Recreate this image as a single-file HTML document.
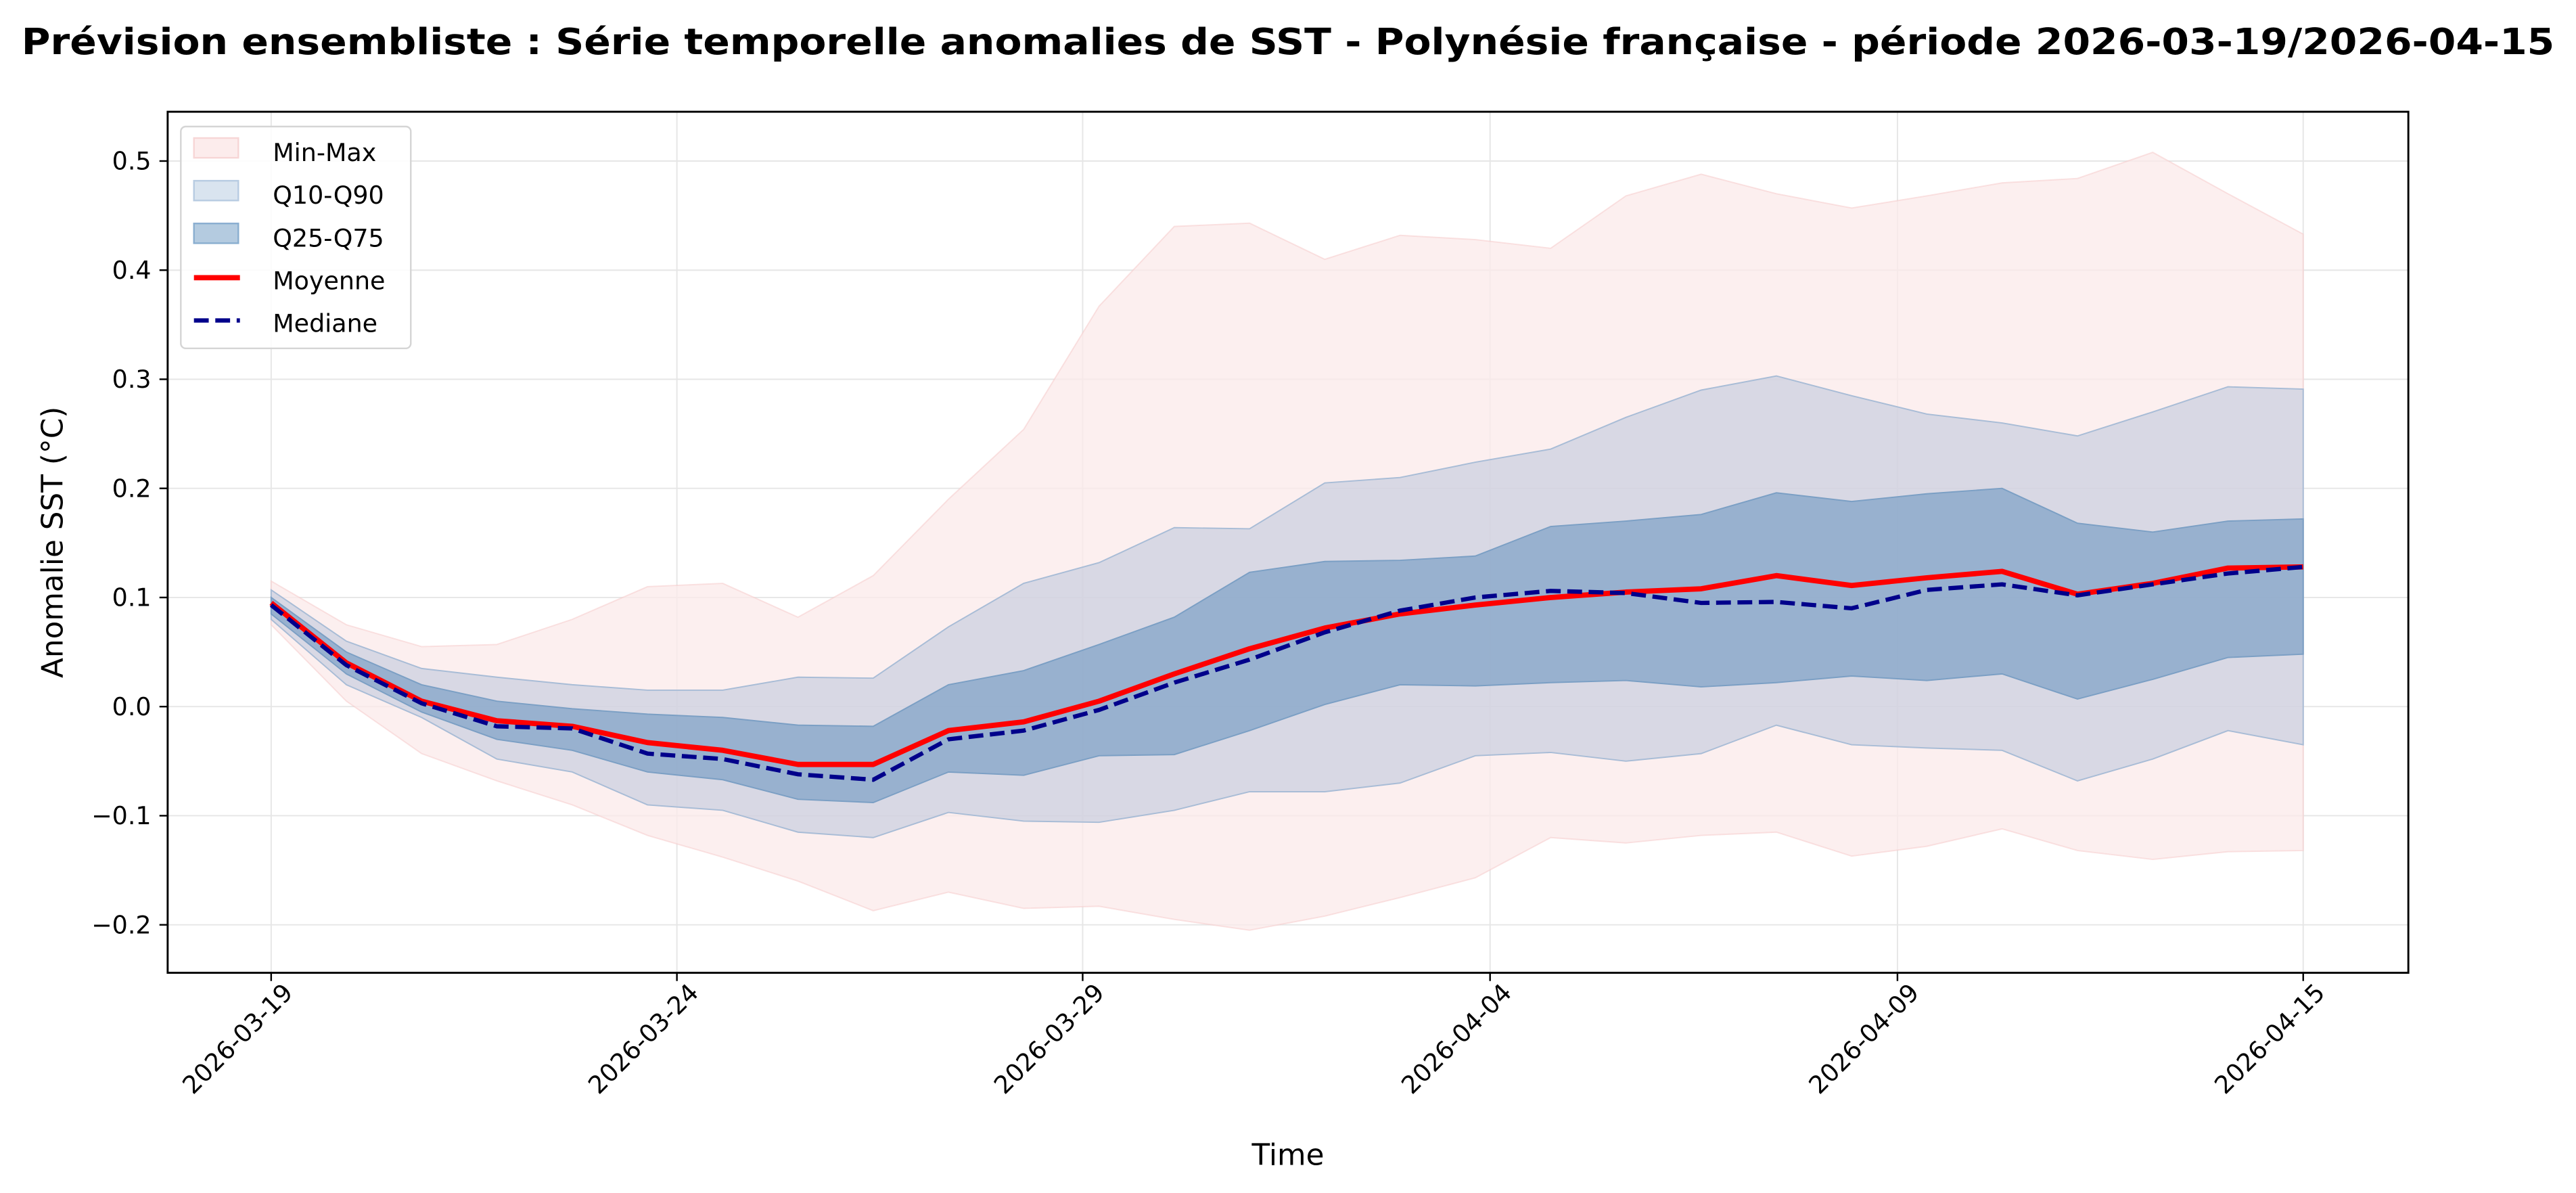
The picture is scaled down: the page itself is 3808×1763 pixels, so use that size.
<!DOCTYPE html>
<html><head><meta charset="utf-8"><style>html,body{margin:0;padding:0;background:#fff}svg{display:block}</style></head>
<body>
<svg id="s" xmlns="http://www.w3.org/2000/svg" width="3808" height="1763" viewBox="0 0 1568 726" font-family="'DejaVu Sans','Liberation Sans',sans-serif">
<rect width="1568" height="726" fill="#fff"/>
<g id="g"></g>
<text x="784" y="33" text-anchor="middle" font-size="22" font-weight="bold" textLength="1542" lengthAdjust="spacingAndGlyphs">Prévision ensembliste : Série temporelle anomalies de SST - Polynésie française - période 2026-03-19/2026-04-15</text>
</svg>
<script>
const X0=165,DX=(1402-165)/27;
const Y=v=>430-v*664, Xi=i=>X0+DX*i;
const mean=[.095,.04,.005,-.013,-.018,-.033,-.04,-.053,-.053,-.022,-.014,.005,.03,.053,.072,.085,.093,.1,.105,.108,.12,.111,.118,.124,.103,.113,.127,.128];
const med=[.093,.038,.003,-.018,-.02,-.043,-.048,-.062,-.067,-.03,-.022,-.003,.022,.043,.068,.088,.1,.106,.104,.095,.096,.09,.107,.112,.102,.112,.122,.128];
const q25=[.085,.03,-.005,-.03,-.04,-.06,-.067,-.085,-.088,-.06,-.063,-.045,-.044,-.022,.002,.02,.019,.022,.024,.018,.022,.028,.024,.03,.007,.025,.045,.048];
const q75=[.1,.05,.02,.005,-.002,-.007,-.01,-.017,-.018,.02,.033,.057,.082,.123,.133,.134,.138,.165,.17,.176,.196,.188,.195,.2,.168,.16,.17,.172];
const q10=[.08,.02,-.01,-.048,-.06,-.09,-.095,-.115,-.12,-.097,-.105,-.106,-.095,-.078,-.078,-.07,-.045,-.042,-.05,-.043,-.017,-.035,-.038,-.04,-.068,-.048,-.022,-.035];
const q90=[.107,.06,.035,.027,.02,.015,.015,.027,.026,.073,.113,.132,.164,.163,.205,.21,.224,.236,.265,.29,.303,.285,.268,.26,.248,.27,.293,.291];
const mn=[.075,.005,-.043,-.068,-.09,-.118,-.138,-.16,-.187,-.17,-.185,-.183,-.195,-.205,-.192,-.175,-.157,-.12,-.125,-.118,-.115,-.137,-.128,-.112,-.132,-.14,-.133,-.132];
const mx=[.115,.075,.055,.057,.08,.11,.113,.082,.12,.19,.254,.367,.44,.443,.41,.432,.428,.42,.468,.488,.47,.457,.468,.48,.484,.508,.47,.433];
const pts=a=>a.map((v,i)=>Xi(i).toFixed(1)+','+Y(v).toFixed(1));
const band=(lo,hi)=>pts(hi).concat(pts(lo).reverse()).join(' ');
let h='';
[-.2,-.1,0,.1,.2,.3,.4,.5].forEach(v=>{h+=`<line x1="102" x2="1466" y1="${Y(v)}" y2="${Y(v)}" stroke="#e6e6e6" stroke-width="0.8"/>`;});
const ticks=[[165,'2026-03-19'],[412,'2026-03-24'],[659,'2026-03-29'],[907,'2026-04-04'],[1155,'2026-04-09'],[1402,'2026-04-15']];
ticks.forEach(t=>{h+=`<line x1="${t[0]}" x2="${t[0]}" y1="68" y2="592" stroke="#e6e6e6" stroke-width="0.8"/>`;});
h+=`<polygon points="${band(mn,mx)}" fill="#fbe9e9" fill-opacity="0.75" stroke="#f5c8c8" stroke-opacity="0.5" stroke-width="0.8"/>`;
h+=`<polygon points="${band(q10,q90)}" fill="#acbdd8" fill-opacity="0.45" stroke="#a8bcd6" stroke-width="0.8"/>`;
h+=`<polygon points="${band(q25,q75)}" fill="#7fa2c6" fill-opacity="0.72" stroke="#7b9fc4" stroke-width="0.8"/>`;
h+=`<polyline points="${pts(mean).join(' ')}" fill="none" stroke="#ff0000" stroke-width="3.2" stroke-linejoin="round"/>`;
h+=`<polyline points="${pts(med).join(' ')}" fill="none" stroke="#00008b" stroke-width="2.6" stroke-dasharray="9,4"/>`;
h+=`<rect x="102" y="68" width="1364" height="524" fill="none" stroke="#000" stroke-width="1.2"/>`;
[-.2,-.1,0,.1,.2,.3,.4,.5].forEach(v=>{const y=Y(v);h+=`<line x1="97" x2="102" y1="${y}" y2="${y}" stroke="#000"/><text x="92" y="${y+5.2}" font-size="15" text-anchor="end">${v<0?'−'+(-v).toFixed(1):v.toFixed(1)}</text>`;});
ticks.forEach(t=>{h+=`<line x1="${t[0]}" x2="${t[0]}" y1="592" y2="597" stroke="#000"/><text transform="translate(${t[0]+14},605) rotate(-45)" font-size="15" text-anchor="end">${t[1]}</text>`;});
h+=`<text x="784" y="709" font-size="18" text-anchor="middle">Time</text>`;
h+=`<text transform="translate(38,330) rotate(-90)" font-size="18" text-anchor="middle">Anomalie SST (°C)</text>`;
h+=`<rect x="110" y="77" width="140" height="135" rx="3" fill="#fff" fill-opacity="0.85" stroke="#d5d5d5"/>`;
h+=`<rect x="118" y="84" width="27" height="12" fill="#fcecec" stroke="#f7d6d6"/><text x="166" y="98" font-size="15">Min-Max</text>`;
h+=`<rect x="118" y="110" width="27" height="12" fill="#d9e4ef" stroke="#b8cce2"/><text x="166" y="124" font-size="15">Q10-Q90</text>`;
h+=`<rect x="118" y="136" width="27" height="12" fill="#b4cbe0" stroke="#8aaed0"/><text x="166" y="150" font-size="15">Q25-Q75</text>`;
h+=`<line x1="118" x2="146" y1="169" y2="169" stroke="#f00" stroke-width="3.2"/><text x="166" y="176" font-size="15">Moyenne</text>`;
h+=`<line x1="118" x2="146" y1="195" y2="195" stroke="#00008b" stroke-width="2.6" stroke-dasharray="9,4"/><text x="166" y="202" font-size="15">Mediane</text>`;
document.getElementById('g').innerHTML=h;
</script>
</body></html>
